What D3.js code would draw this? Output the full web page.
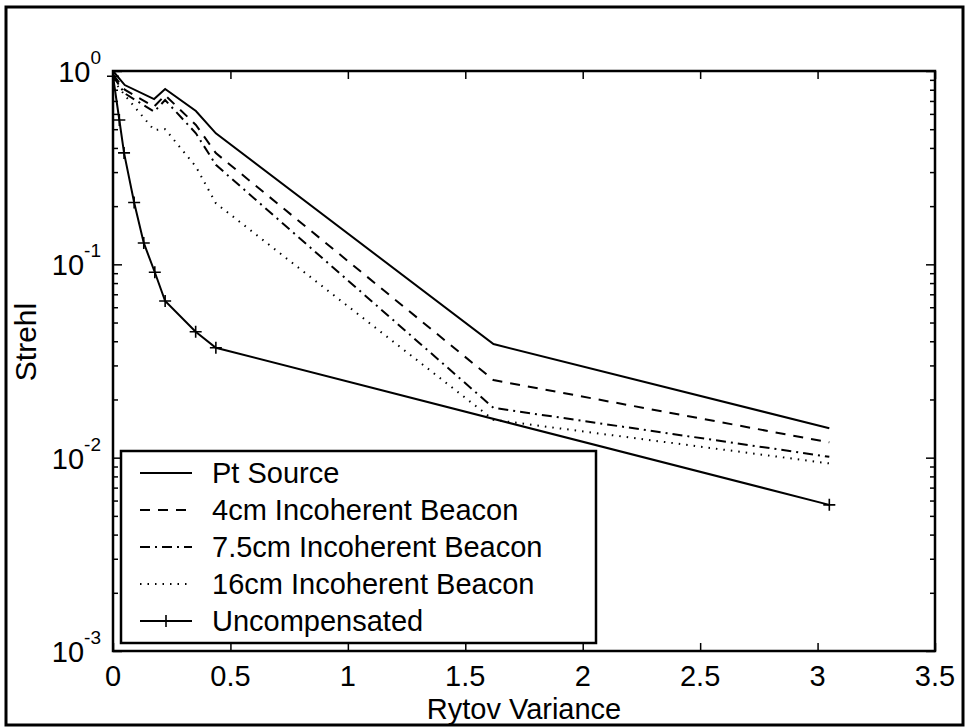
<!DOCTYPE html>
<html>
<head>
<meta charset="utf-8">
<script src="https://cdn.jsdelivr.net/npm/d3@7"></script>
<style>
  body { margin: 0; background: #fff; }
  text { font-family: "Liberation Sans", Arial, Helvetica, sans-serif; fill: #000; }
</style>
</head>
<body>
<svg id="chart"></svg>
<script>
// Rytov variance sample points
const rytov = [0, 0.05, 0.175, 0.222, 0.353, 0.438, 1.62, 3.05];
const rytovUncomp = [0, 0.027, 0.047, 0.09, 0.131, 0.178, 0.222, 0.352, 0.438, 3.05];

// Strehl values
const ptSource = [1.0, 0.846, 0.716, 0.807, 0.621, 0.476, 0.0387, 0.0142];
const beacon4 = [0.96, 0.80, 0.654, 0.75, 0.526, 0.376, 0.0252, 0.0120];
const beacon75 = [0.94, 0.766, 0.616, 0.708, 0.476, 0.327, 0.0181, 0.0101];
const beacon16 = [0.90, 0.75, 0.495, 0.50, 0.32, 0.207, 0.0157, 0.00934];
const uncompensated = [0.94, 0.558, 0.377, 0.209, 0.129, 0.091, 0.0646, 0.0448, 0.037, 0.0057];

const xTicks = [0, 0.5, 1, 1.5, 2, 2.5, 3, 3.5];
const yTicks = [1e-3, 1e-2, 1e-1, 1];
const yTickExp = ["-3", "-2", "-1", "0"];

const legendLabels = ["Pt Source", "4cm Incoherent Beacon", "7.5cm Incoherent Beacon",
                      "16cm Incoherent Beacon", "Uncompensated"];

const width = 969;
const height = 728;
const margin = { left: 113, right: 30, top: 71, bottom: 77 };

const svg = d3.select("#chart")
    .attr("width", width)
    .attr("height", height);

svg.append("rect")
    .attr("width", width)
    .attr("height", height)
    .attr("fill", "#fff");

// Outer figure frame
svg.append("rect")
    .attr("x", 6)
    .attr("y", 7)
    .attr("width", 957)
    .attr("height", 718)
    .attr("fill", "none")
    .attr("stroke", "#000")
    .attr("stroke-width", 3);

const x = d3.scaleLinear()
    .domain([0, 3.5])
    .range([margin.left, width - margin.right - 4]);

const y = d3.scaleLog()
    .domain([1e-3, 1])
    .range([height - margin.bottom, margin.top]);

const x0 = x.range()[0], x1 = x.range()[1];
const y0 = y.range()[0], y1 = y.range()[1];

// minor log ticks
const minorTicks = [];
[1e-3, 1e-2, 1e-1].forEach(d => {
    for (let k = 2; k <= 9; k++) minorTicks.push(d * k);
});

const series = [
    { values: ptSource, xs: rytov, dash: null, marker: false },
    { values: beacon4, xs: rytov, dash: "10,8", marker: false },
    { values: beacon75, xs: rytov, dash: "10,5,2,5", marker: false },
    { values: beacon16, xs: rytov, dash: "1.5,6", marker: false },
    { values: uncompensated, xs: rytovUncomp, dash: null, marker: true }
];

const line = d3.line()
    .x(d => x(d[0]))
    .y(d => y(d[1]));

const plot = svg.append("g");

series.forEach(s => {
    const pts = s.xs.map((v, i) => [v, s.values[i]]);
    plot.append("path")
        .datum(pts)
        .attr("d", line)
        .attr("fill", "none")
        .attr("stroke", "#000")
        .attr("stroke-width", 2)
        .attr("stroke-dasharray", s.dash);

    if (s.marker) {
        pts.forEach(p => {
            const cx = x(p[0]), cy = y(p[1]);
            plot.append("path")
                .attr("d", `M${cx - 6},${cy}H${cx + 6}M${cx},${cy - 6}V${cy + 6}`)
                .attr("stroke", "#000")
                .attr("stroke-width", 1.6);
        });
    }
});

// Axes with inward ticks on all sides
const axisG = svg.append("g");

axisG.append("g")
    .attr("transform", `translate(0,${y0})`)
    .call(d3.axisBottom(x).tickValues(xTicks).tickSize(-8).tickFormat(""));
axisG.append("g")
    .attr("transform", `translate(0,${y1})`)
    .call(d3.axisTop(x).tickValues(xTicks).tickSize(-8).tickFormat(""));
axisG.append("g")
    .attr("transform", `translate(${x0},0)`)
    .call(d3.axisLeft(y).tickValues(yTicks).tickSize(-9).tickFormat(""));
axisG.append("g")
    .attr("transform", `translate(${x0},0)`)
    .call(d3.axisLeft(y).tickValues(minorTicks).tickSize(-5).tickFormat(""));
axisG.append("g")
    .attr("transform", `translate(${x1},0)`)
    .call(d3.axisRight(y).tickValues(yTicks).tickSize(-9).tickFormat(""));
axisG.append("g")
    .attr("transform", `translate(${x1},0)`)
    .call(d3.axisRight(y).tickValues(minorTicks).tickSize(-5).tickFormat(""));

axisG.selectAll(".domain").remove();
axisG.selectAll(".tick line").attr("stroke", "#000").attr("stroke-width", 1.5);

svg.append("rect")
    .attr("x", x0)
    .attr("y", y1)
    .attr("width", x1 - x0)
    .attr("height", y0 - y1)
    .attr("fill", "none")
    .attr("stroke", "#000")
    .attr("stroke-width", 2.5);

// x tick labels
svg.append("g")
    .selectAll("text")
    .data(xTicks)
    .join("text")
    .attr("x", d => x(d))
    .attr("y", y0 + 35)
    .attr("text-anchor", "middle")
    .style("font-size", "29px")
    .text(d => d);

// y tick labels with superscripts
yTicks.forEach((d, i) => {
    const t = svg.append("text")
        .attr("x", x0 - 12)
        .attr("y", y(d) + 11)
        .attr("text-anchor", "end")
        .style("font-size", "29px");
    t.append("tspan").text("10");
    t.append("tspan")
        .attr("dy", -18)
        .style("font-size", "19px")
        .text(yTickExp[i]);
});

// axis titles
svg.append("text")
    .attr("x", (x0 + x1) / 2)
    .attr("y", 719)
    .attr("text-anchor", "middle")
    .style("font-size", "29px")
    .text("Rytov Variance");

svg.append("text")
    .attr("transform", `translate(36,342) rotate(-90)`)
    .attr("text-anchor", "middle")
    .style("font-size", "30px")
    .text("Strehl");

// Legend
const legend = svg.append("g");
legend.append("rect")
    .attr("x", 121)
    .attr("y", 451)
    .attr("width", 475)
    .attr("height", 192)
    .attr("fill", "#fff")
    .attr("stroke", "#000")
    .attr("stroke-width", 2.5);

legendLabels.forEach((label, i) => {
    const ly = 473 + i * 37;
    const s = series[i];
    legend.append("line")
        .attr("x1", 140)
        .attr("x2", 192)
        .attr("y1", ly)
        .attr("y2", ly)
        .attr("stroke", "#000")
        .attr("stroke-width", 2)
        .attr("stroke-dasharray", s.dash);
    if (s.marker) {
        legend.append("path")
            .attr("d", `M160,${ly}H172M166,${ly - 6}V${ly + 6}`)
            .attr("stroke", "#000")
            .attr("stroke-width", 1.6);
    }
    legend.append("text")
        .attr("x", 212)
        .attr("y", ly + 10)
        .style("font-size", "29px")
        .text(label);
});
</script>
</body>
</html>
